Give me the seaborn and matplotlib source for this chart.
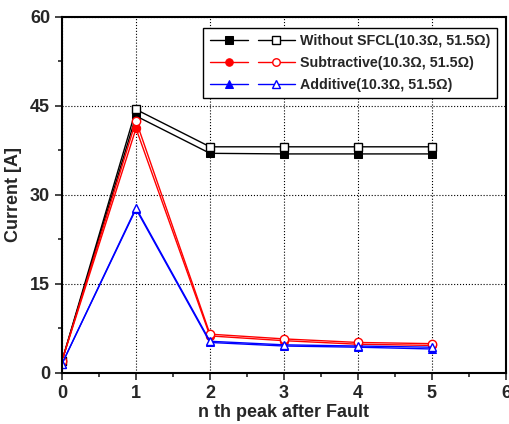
import numpy as np
import matplotlib
matplotlib.use("Agg")
import matplotlib.pyplot as plt
import seaborn as sns
from matplotlib.legend_handler import HandlerTuple
from matplotlib.ticker import MultipleLocator

# --------------------------
# DATA
# --------------------------
peaks = [0, 1, 2, 3, 4, 5]

without_filled = [2.0, 43.3, 37.0, 36.9, 36.9, 36.9]
without_open = [2.0, 44.4, 38.1, 38.1, 38.1, 38.1]

subtr_filled = [2.0, 41.2, 6.2, 5.4, 4.8, 4.6]
subtr_open = [2.0, 42.5, 6.5, 5.7, 5.1, 4.9]

add_filled = [1.5, 27.6, 5.1, 4.5, 4.3, 4.0]
add_open = [1.5, 27.8, 5.3, 4.7, 4.5, 4.3]

labels = [
    "Without SFCL(10.3\u03a9, 51.5\u03a9)",
    "Subtractive(10.3\u03a9, 51.5\u03a9)",
    "Additive(10.3\u03a9, 51.5\u03a9)",
]

sns.set_style("ticks")
plt.rcParams['font.family'] = ['Liberation Sans', 'DejaVu Sans']
plt.rcParams['font.weight'] = 'bold'

fig = plt.figure(figsize=(5.1, 4.24), dpi=100)
ax = fig.add_axes([0.1216, 0.121, 0.8704, 0.839])

series = [
    (without_filled, without_open, "black", "s"),
    (subtr_filled, subtr_open, "red", "o"),
    (add_filled, add_open, "blue", "^"),
]

handles = []
for filled, hollow, color, mk in series:
    sns.lineplot(x=peaks, y=filled, ax=ax, color=color, marker=mk,
                 markersize=6, markeredgecolor=color, linewidth=1.0)
    sns.lineplot(x=peaks, y=hollow, ax=ax, color=color, marker=mk,
                 markersize=6, markerfacecolor="white",
                 markeredgecolor=color, markeredgewidth=1.0, linewidth=1.0)
    n = len(ax.lines)
    handles.append((ax.lines[n - 2], ax.lines[n - 1]))

ax.set_xlim(0, 6)
ax.set_ylim(0, 60)
ax.xaxis.set_major_locator(MultipleLocator(1))
ax.xaxis.set_minor_locator(MultipleLocator(0.5))
ax.yaxis.set_major_locator(MultipleLocator(15))
ax.yaxis.set_minor_locator(MultipleLocator(7.5))
ax.tick_params(axis='both', which='major', direction='out', length=5,
               width=1.2, labelsize=13)
ax.tick_params(axis='both', which='minor', direction='out', length=3,
               width=1.2)
for lbl in ax.get_xticklabels() + ax.get_yticklabels():
    lbl.set_fontweight('bold')

ax.grid(True, which='major', linestyle=':', color='black', linewidth=0.8)
for sp in ax.spines.values():
    sp.set_linewidth(1.5)
    sp.set_color('black')

ax.set_xlabel("n th peak after Fault", fontsize=13, fontweight='bold',
              labelpad=2)
ax.set_ylabel("Current [A]", fontsize=13, fontweight='bold', labelpad=6)

leg = ax.legend(handles, labels,
                handler_map={tuple: HandlerTuple(ndivide=None, pad=0.7)},
                loc='upper right', bbox_to_anchor=(0.995, 0.99),
                fontsize=10.3, handlelength=6.0, frameon=True, fancybox=False,
                edgecolor='black', framealpha=1, borderpad=0.45,
                labelspacing=0.55, handletextpad=0.3, markerscale=0.9)
leg.get_frame().set_linewidth(1.0)
for t in leg.get_texts():
    t.set_fontweight('bold')

fig.savefig("out.png", dpi=100)
